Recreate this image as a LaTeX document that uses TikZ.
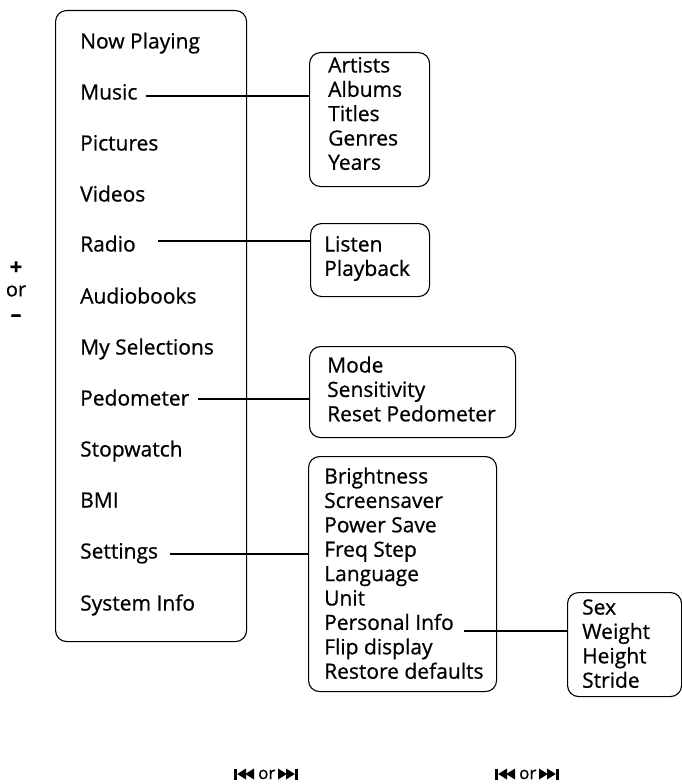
\documentclass[tikz,border=0pt]{standalone}
\usepackage{fontspec}
\setmainfont{Open Sans}[RawFeature={embolden=0.7}]
\begin{document}
\begin{tikzpicture}[x=1pt,y=-1pt,
  box/.style={draw, line width=1.1pt, rounded corners=11pt, inner sep=0pt, anchor=north west},
  item/.style={anchor=base west, inner sep=0pt, font=\fontsize{21}{24}\selectfont},
  link/.style={line width=1.1pt},
  skipback/.pic={
    \fill (0,-5.5) rectangle (3.2,5.5);
    \fill (3.2,0) -- (12,-5.5) -- (12,5.5) -- cycle;
    \fill (11.2,0) -- (20,-5.5) -- (20,5.5) -- cycle;},
  skipfwd/.pic={
    \fill (0,-5.5) -- (8.8,0) -- (0,5.5) -- cycle;
    \fill (8,-5.5) -- (16.8,0) -- (8,5.5) -- cycle;
    \fill (16.8,-5.5) rectangle (20,5.5);}]
\useasboundingbox (0,0) rectangle (682,784);

% main menu
\node[box, minimum width=191pt, minimum height=631pt] (mainbox) at (55,10) {};
\node[item] (np)   at (80,48.5)  {Now Playing};
\node[item] (mus)  at (80,99.5)  {Music};
\node[item] (pic)  at (80,150.5) {Pictures};
\node[item] (vid)  at (80,201.5) {Videos};
\node[item] (rad)  at (80,251.5) {Radio};
\node[item] (aud)  at (80,303.5) {Audiobooks};
\node[item] (sel)  at (80,354.5) {My Selections};
\node[item] (ped)  at (80,405.5) {Pedometer};
\node[item] (stw)  at (80,456.5) {Stopwatch};
\node[item] (bmi)  at (80,507.5) {BMI};
\node[item] (set)  at (80,558.5) {Settings};
\node[item] (sys)  at (80,610.5) {System Info};

% + or -
\node[font=\bfseries\fontsize{22}{24}\selectfont, inner sep=0pt] (plus) at (16,268) {+};
\node[font=\fontsize{20}{24}\selectfont, inner sep=0pt] (or1) at (16,291) {or};
\node[font=\bfseries\fontsize{22}{24}\selectfont, inner sep=0pt] (minus) at (16,318) {\char"2013};

% Music submenu
\node[box, minimum width=120pt, minimum height=134pt] (musbox) at (309,52) {};
\node[item] (art) at (328,72.5)  {Artists};
\node[item] (alb) at (328,96.8)  {Albums};
\node[item] (tit) at (328,121.1) {Titles};
\node[item] (gen) at (328,145.5) {Genres};
\node[item] (yea) at (328,169.8) {Years};

% Radio submenu
\node[box, minimum width=119pt, minimum height=73pt] (radbox) at (310,223) {};
\node[item] (lis) at (324,251.5) {Listen};
\node[item] (pla) at (324,275.9) {Playback};

% Pedometer submenu
\node[box, minimum width=206pt, minimum height=91pt] (pedbox) at (309,346) {};
\node[item] (mod) at (327,372.5) {Mode};
\node[item] (sen) at (327,396.9) {Sensitivity};
\node[item] (rpe) at (327,421.3) {Reset Pedometer};

% Settings submenu
\node[box, minimum width=188pt, minimum height=235pt] (setbox) at (308,456) {};
\node[item] (bri) at (324,483.5) {Brightness};
\node[item] (scr) at (324,507.9) {Screensaver};
\node[item] (pow) at (324,532.3) {Power Save};
\node[item] (frq) at (324,556.7) {Freq Step};
\node[item] (lan) at (324,581.1) {Language};
\node[item] (uni) at (324,605.5) {Unit};
\node[item] (per) at (324,629.9) {Personal Info};
\node[item] (fli) at (324,654.3) {Flip display};
\node[item] (res) at (324,678.7) {Restore defaults};

% Personal info submenu
\node[box, minimum width=114pt, minimum height=104pt] (perbox) at (567,592) {};
\node[item] (sex) at (582,614.5) {Sex};
\node[item] (wei) at (582,638.9) {Weight};
\node[item] (hei) at (582,663.3) {Height};
\node[item] (str) at (582,687.7) {Stride};

% connectors
\coordinate (c1) at (146,96);
\draw[link] (c1) -- (c1 -| musbox.west);
\coordinate (c2) at (158,241);
\draw[link] (c2) -- (c2 -| radbox.west);
\coordinate (c3) at (198,399);
\draw[link] (c3) -- (c3 -| pedbox.west);
\coordinate (c4) at (170,554);
\draw[link] (c4) -- (c4 -| setbox.west);
\coordinate (c5) at (464,631);
\draw[link] (c5) -- (c5 -| perbox.west);

% bottom skip controls
\pic at (234,774) {skipback};
\node[font=\fontsize{17}{20}\selectfont, inner sep=0pt, anchor=base west] (or2) at (258,779) {or};
\pic at (278,774) {skipfwd};
\pic at (495,774) {skipback};
\node[font=\fontsize{17}{20}\selectfont, inner sep=0pt, anchor=base west] (or3) at (519,779) {or};
\pic at (539,774) {skipfwd};
\end{tikzpicture}
\end{document}
